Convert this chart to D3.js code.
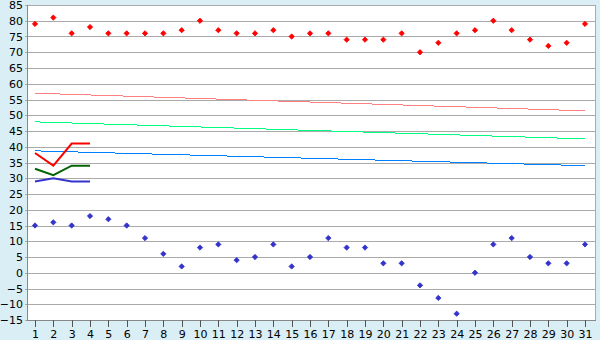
<!DOCTYPE html>
<html>
<head>
<meta charset="utf-8">
<script src="https://cdn.jsdelivr.net/npm/d3@7"></script>
<style>
  body { margin: 0; background: #d9eef5; }
  svg { display: block; }
  text { font-family: "DejaVu Sans", Verdana, sans-serif; font-size: 11px; fill: #000; }
</style>
</head>
<body>
<script>
// days of the month
var days = d3.range(1, 32);

// daily highs / lows (scatter)
var highs = [79, 81, 76, 78, 76, 76, 76, 76, 77, 80, 77, 76, 76, 77, 75, 76,
             76, 74, 74, 74, 76, 70, 73, 76, 77, 80, 77, 74, 72, 73, 79];
var lows  = [15, 16, 15, 18, 17, 15, 11, 6, 2, 8, 9, 4, 5, 9, 2, 5,
             11, 8, 8, 3, 3, -4, -8, -13, 0, 9, 11, 5, 3, 3, 9];

// short lines for the first four days
var redLine   = [38, 34, 41, 41];
var greenLine = [33, 31, 34, 34];
var blueLine  = [29, 30, 29, 29];

// trend lines: value on day 1 and on day 31
var trendPink  = [57, 51.4];
var trendGreen = [47.9, 42.5];
var trendBlue  = [38.7, 34.0];

var yTicks = d3.range(-15, 90, 5);

var width = 600, height = 340;
var plotLeft = 27, plotRight = 595, plotTop = 5, plotBottom = 320;

var svg = d3.select("body").append("svg")
    .attr("width", width)
    .attr("height", height);

var x = d3.scaleLinear().domain([1, 31]).range([35, 585]);
var y = d3.scaleLinear().domain([-15, 85]).range([plotBottom, plotTop]);

// plot background
svg.append("rect")
    .attr("x", plotLeft).attr("y", plotTop)
    .attr("width", plotRight - plotLeft).attr("height", plotBottom - plotTop)
    .attr("fill", "#fff");

// horizontal grid
svg.append("g")
    .selectAll("line")
    .data(yTicks)
    .enter()
    .append("line")
    .attr("x1", plotLeft - 2).attr("x2", plotRight)
    .attr("y1", d => Math.round(y(d)) + 0.5)
    .attr("y2", d => Math.round(y(d)) + 0.5)
    .attr("stroke", "#aaa")
    .attr("shape-rendering", "crispEdges");

// frame
svg.append("line")
    .attr("x1", plotRight + 0.5).attr("x2", plotRight + 0.5)
    .attr("y1", plotTop).attr("y2", plotBottom)
    .attr("stroke", "#aaa").attr("shape-rendering", "crispEdges");
svg.append("line")
    .attr("x1", plotLeft + 0.5).attr("x2", plotLeft + 0.5)
    .attr("y1", plotTop).attr("y2", plotBottom + 1)
    .attr("stroke", "#888").attr("shape-rendering", "crispEdges");
svg.append("line")
    .attr("x1", plotLeft).attr("x2", plotRight + 1)
    .attr("y1", plotBottom + 0.5).attr("y2", plotBottom + 0.5)
    .attr("stroke", "#888").attr("shape-rendering", "crispEdges");

// y labels
svg.append("g")
    .selectAll("text")
    .data(yTicks)
    .enter()
    .append("text")
    .attr("x", 23)
    .attr("y", d => y(d) + 4)
    .attr("text-anchor", "end")
    .text(d => d < 0 ? "\u2212" + Math.abs(d) : d);

// x ticks and labels
var xt = svg.append("g")
    .selectAll("g")
    .data(days)
    .enter()
    .append("g");
xt.append("line")
    .attr("x1", d => Math.round(x(d)) + 0.5)
    .attr("x2", d => Math.round(x(d)) + 0.5)
    .attr("y1", plotBottom).attr("y2", plotBottom + 7)
    .attr("stroke", "#555").attr("shape-rendering", "crispEdges");
xt.append("text")
    .attr("x", d => x(d) + 0.5)
    .attr("y", 338)
    .attr("text-anchor", "middle")
    .text(d => d);

// trend lines
var trends = [
  { v: trendPink, c: "#ff8080" },
  { v: trendGreen, c: "#00ff80" },
  { v: trendBlue, c: "#0080ff" }
];
svg.append("g")
    .selectAll("line")
    .data(trends)
    .enter()
    .append("line")
    .attr("x1", x(1)).attr("x2", x(31))
    .attr("y1", d => y(d.v[0])).attr("y2", d => y(d.v[1]))
    .attr("stroke", d => d.c)
    .attr("stroke-width", 1)
    .attr("shape-rendering", "crispEdges");

// short lines
var line = d3.line()
    .x((d, i) => x(days[i]))
    .y(d => y(d));
[[redLine, "#ff0000"], [greenLine, "#006400"], [blueLine, "#3333cc"]].forEach(function(s) {
  svg.append("path")
      .attr("d", line(s[0]))
      .attr("fill", "none")
      .attr("stroke", s[1])
      .attr("stroke-width", 2);
});

// scatter markers
var diamond = d3.symbol().type(d3.symbolSquare).size(14);
function points(data, color) {
  svg.append("g")
      .selectAll("path")
      .data(data)
      .enter()
      .append("path")
      .attr("d", diamond)
      .attr("transform", (d, i) => "translate(" + x(days[i]) + "," + y(d) + ") rotate(45)")
      .attr("fill", color)
      .attr("stroke", color)
      .attr("stroke-width", 0.8);
}
points(highs, "#ff0000");
points(lows, "#3333cc");
</script>
</body>
</html>
